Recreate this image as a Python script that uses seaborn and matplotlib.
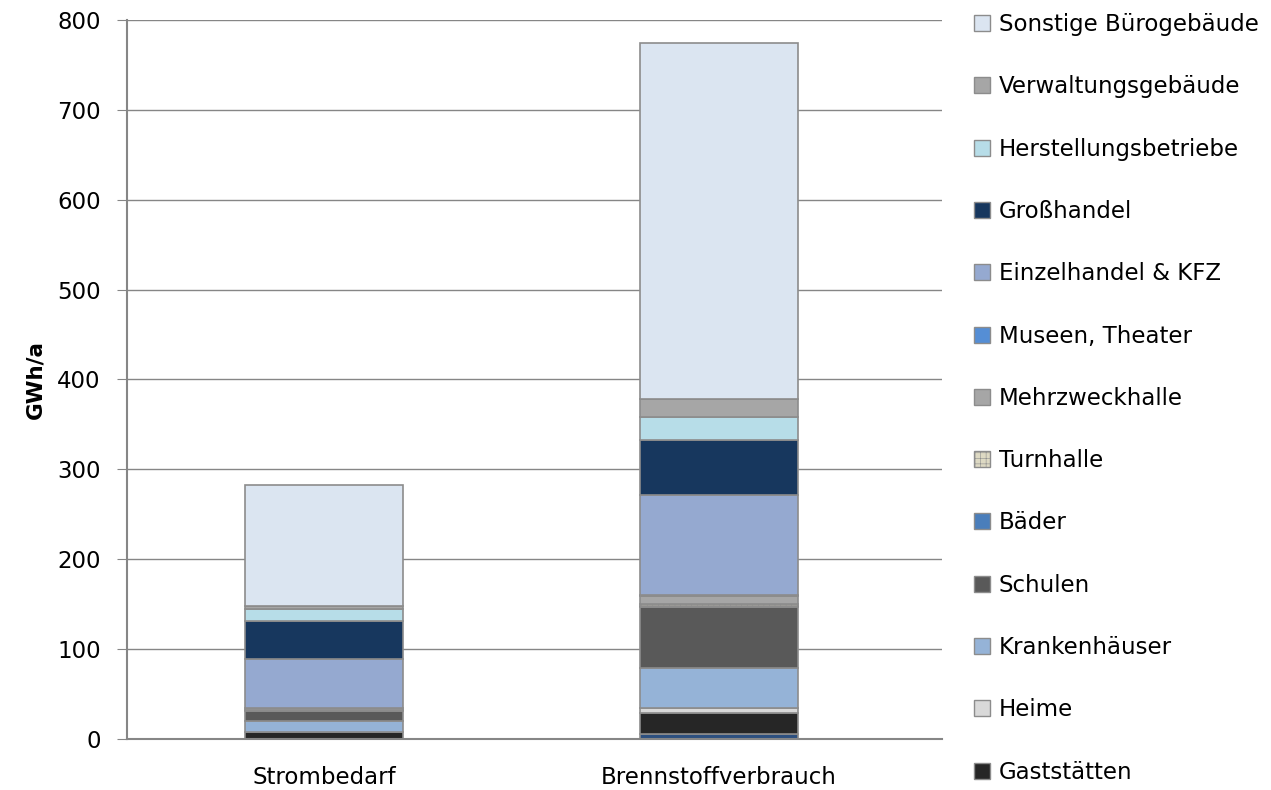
import numpy as np
import pandas as pd
import seaborn as sns
import matplotlib.pyplot as plt
from matplotlib.patches import Patch

sns.set_style("white")
plt.rcParams["font.family"] = ["DejaVu Sans"]
plt.rcParams["hatch.linewidth"] = 0.4
plt.rcParams["text.color"] = "black"
plt.rcParams["xtick.color"] = "black"
plt.rcParams["ytick.color"] = "black"
plt.rcParams["axes.labelcolor"] = "black"

# Kategorien (x-Achse)
kategorien = ["Strombedarf", "Brennstoffverbrauch"]

# Serien von unten nach oben (GWh/a); erste Serie hat keinen sichtbaren Legendeneintrag
serien = [
    "_unten", "Gaststätten", "Heime", "Krankenhäuser", "Schulen", "Bäder",
    "Turnhalle", "Mehrzweckhalle", "Museen, Theater", "Einzelhandel & KFZ",
    "Großhandel", "Herstellungsbetriebe", "Verwaltungsgebäude", "Sonstige Bürogebäude",
]
strom = [0.3, 7, 1, 11.5, 11, 1, 0.5, 2, 0.5, 54, 42, 14, 3.5, 134]
brennstoff = [6, 23, 5, 45, 68, 1, 2, 9, 1, 112, 61, 25, 20, 396]

farben = [
    "#2c4f7f", "#262626", "#d9d9d9", "#95b3d7", "#595959", "#4a7ebb",
    "#ddd9c3", "#a6a6a6", "#558ed5", "#95a9d0", "#17375e", "#b7dde8",
    "#a6a6a6", "#dbe5f1",
]
schraffur = {"Turnhalle": "+++"}

df = pd.DataFrame({"Kategorie": kategorien})
for i, s in enumerate(serien):
    df[s] = [strom[i], brennstoff[i]]

fig = plt.figure(figsize=(12.71, 7.9), dpi=100)
ax = fig.add_axes([0.0999, 0.0646, 0.6413, 0.9101])

unten = np.zeros(len(kategorien))
for s, c in zip(serien, farben):
    sns.barplot(data=df, x="Kategorie", y=s, color=c, bottom=unten, width=0.4,
                edgecolor="#8c8c8c", linewidth=1.2, hatch=schraffur.get(s),
                saturation=1, ax=ax, errorbar=None)
    unten = unten + df[s].values

ax.set_ylim(0, 800)
ax.set_xlim(-0.499, 1.565)
ax.set_yticks(np.arange(0, 801, 100))
ax.yaxis.grid(True, color="#868686", linewidth=1)
ax.set_axisbelow(True)
for sp in ["top", "right"]:
    ax.spines[sp].set_visible(False)
for sp in ["left", "bottom"]:
    ax.spines[sp].set_color("#868686")
    ax.spines[sp].set_linewidth(1.5)
ax.tick_params(axis="y", left=True, length=7, color="#868686", labelsize=16.5, pad=12)
ax.tick_params(axis="x", bottom=False, labelsize=16.5, pad=16)
ax.set_xlabel("")
ax.set_ylabel("GWh/a", fontsize=15.5, fontweight="bold", labelpad=8)

handles = []
for s, c in zip(serien, farben):
    if s.startswith("_"):
        continue
    handles.append(Patch(facecolor=c, edgecolor="#8c8c8c", hatch=schraffur.get(s), label=s))
handles = handles[::-1]
fig.legend(handles=handles, loc="upper left", bbox_to_anchor=(0.757, 0.998),
           frameon=False, fontsize=16.5, labelspacing=1.715, handlelength=0.7,
           handleheight=0.7, handletextpad=0.4, borderpad=0)

fig.savefig("out.png", dpi=100)
